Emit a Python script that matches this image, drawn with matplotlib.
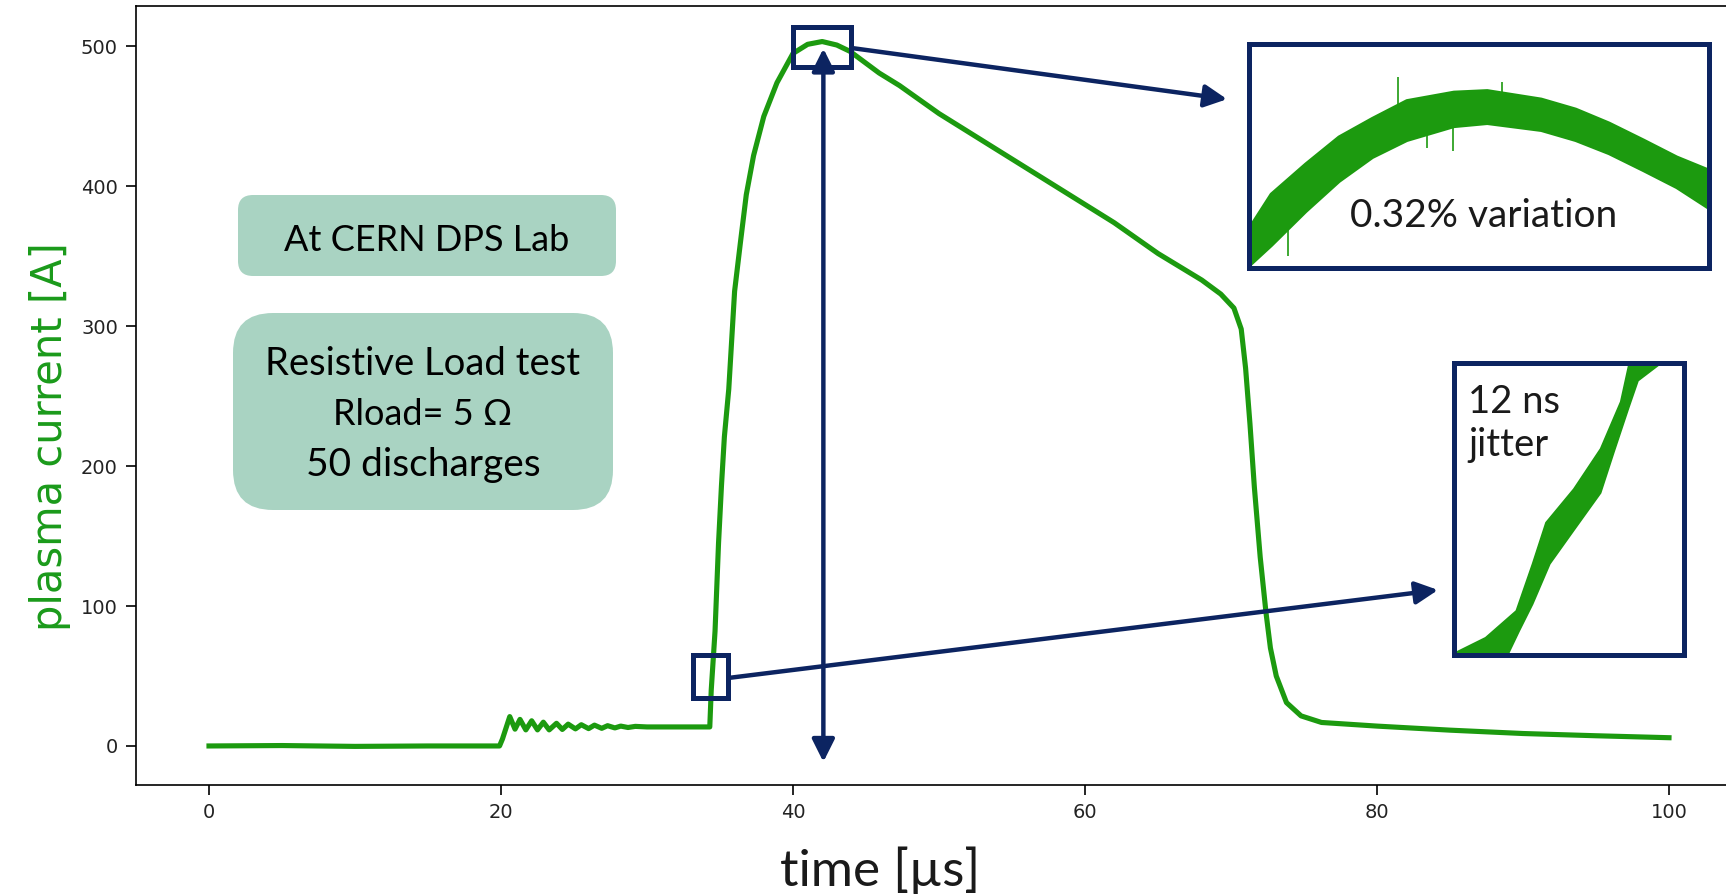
import matplotlib
matplotlib.use("Agg")
import matplotlib.pyplot as plt
from matplotlib.patches import Rectangle, FancyBboxPatch
from matplotlib.transforms import IdentityTransform

# main trace: plasma current [A] vs time [us]
time_us = [0.0, 5.0, 10.0, 15.0, 19.9,
           20.1, 20.6, 20.96, 21.3, 21.7, 22.1, 22.5, 22.9, 23.3, 23.8, 24.2,
           24.6, 25.1, 25.5, 26.0, 26.4, 26.9, 27.3, 27.8, 28.2, 28.7, 29.2,
           30.0, 34.3,
           34.4, 34.66, 34.9, 35.1, 35.3, 35.6, 35.8, 36.0, 36.4, 36.8, 37.3,
           38.0, 38.9, 40.0, 41.0, 42.0, 43.0, 43.9, 45.9, 47.3,
           50.0, 54.0, 58.0, 62.0, 65.0, 68.0, 69.3, 70.2, 70.7, 71.0, 71.3,
           71.6, 72.0, 72.4, 72.7, 73.1, 73.8, 74.8, 76.2,
           80.0, 85.0, 90.0, 95.0, 100.0]
current_a = [0.0, 0.3, -0.3, 0.0, 0.0,
             5.0, 21.0, 12.0, 19.0, 11.5, 18.0, 11.5, 17.0, 11.5, 16.2, 11.8,
             15.6, 12.2, 15.2, 12.4, 14.9, 12.6, 14.5, 12.9, 14.2, 13.2, 14.0,
             13.6, 13.6,
             40.0, 82.0, 145.0, 186.0, 221.0, 255.0, 290.0, 325.0, 360.0, 394.0, 422.0,
             450.0, 474.0, 495.0, 501.5, 503.5, 501.0, 496.5, 481.0, 472.0,
             452.0, 426.0, 400.0, 374.0, 352.0, 333.0, 323.0, 313.0, 298.0, 270.0, 230.0,
             185.0, 135.0, 95.0, 70.0, 50.0, 31.0, 21.5, 16.8,
             14.2, 11.3, 8.9, 7.3, 5.9]

# peak zoom (0.32% variation): band of the 50 discharges
peak_t = [40.0, 40.19, 40.49, 40.78, 41.07, 41.37, 41.78, 42.07, 42.54, 42.84,
          43.13, 43.43, 43.72, 44.0]
peak_hi = [490.2, 494.6, 498.5, 502.0, 504.4, 506.7, 507.8, 508.0, 506.9, 505.6,
           503.8, 501.6, 499.4, 497.7]
peak_lo = [485.4, 488.0, 492.4, 496.3, 499.4, 501.6, 503.4, 503.8, 502.9, 501.6,
           499.9, 497.7, 495.5, 492.8]
spike_t = [40.34, 41.3, 41.78, 42.2, 41.55]
spike_lo = [486.5, 505.0, 500.1, 506.0, 500.5]
spike_hi = [490.0, 509.7, 504.0, 509.1, 502.5]

# rising edge zoom (12 ns jitter): left / right edge of the bundle
jit_left_t = [33.177, 33.50, 33.82, 33.99, 34.13, 34.42, 34.70, 34.91, 35.00]
jit_left_a = [34.5, 36.1, 38.9, 43.8, 48.1, 51.6, 55.8, 60.7, 64.8]
jit_right_t = [33.74, 33.85, 33.99, 34.17, 34.42, 34.70, 34.84, 34.99, 35.09, 35.34]
jit_right_a = [34.5, 36.8, 39.6, 43.8, 47.3, 51.2, 55.5, 60.0, 62.9, 64.8]

GREEN = "#1c9a0f"
NAVY = "#0c2461"
BOXC = "#a9d3c2"
W, H = 1726, 894

fig = plt.figure(figsize=(W / 100, H / 100), dpi=100)
ax = fig.add_axes([136 / W, 109 / H, 1606 / W, 779 / H])
ax.plot(time_us, current_a, color=GREEN, lw=3.7, solid_joinstyle="round")
ax.set_xlim(-5, 105)
ax.set_ylim(-27.9, 528.9)
ax.set_xticks([0, 20, 40, 60, 80, 100])
ax.set_yticks([0, 100, 200, 300, 400, 500])
ax.tick_params(labelsize=14, length=7.5, width=1.2, pad=5.5, labelcolor="#222222")
for s in ax.spines.values():
    s.set_linewidth(1.2)

ax.set_xlabel("time [µs]", fontfamily="Lato", fontsize=37, color="#1a1a1a", va="baseline")
ax.xaxis.set_label_coords(0.463, -0.130)
ax.set_ylabel("plasma current [A]", fontsize=30, color="#1a9a1a")
ax.yaxis.set_label_coords(-0.0405, 0.447)

# zoom boxes and arrows
ax.add_patch(Rectangle((40.0, 485.6), 4.0, 28.6, fill=False, ec=NAVY, lw=3.6, zorder=4))
ax.add_patch(Rectangle((33.17, 34.3), 2.4, 30.5, fill=False, ec=NAVY, lw=3.6, zorder=4))
head = "-|>,head_length=0.4,head_width=0.2"
ax.annotate("", xy=(69.73, 462.3), xytext=(44.0, 498.9),
            arrowprops=dict(arrowstyle=head, lw=3.2, color=NAVY, shrinkA=0, shrinkB=0,
                            mutation_scale=34))
ax.annotate("", xy=(84.18, 111.5), xytext=(35.57, 48.6),
            arrowprops=dict(arrowstyle=head, lw=3.2, color=NAVY, shrinkA=0, shrinkB=0,
                            mutation_scale=34))
ax.annotate("", xy=(42.08, -11.4), xytext=(42.08, 498.5),
            arrowprops=dict(arrowstyle="<|-|>,head_length=0.4,head_width=0.2", lw=3.2,
                            color=NAVY, shrinkA=0, shrinkB=0, mutation_scale=34))

# info boxes (pixel coords, top-left origin)
def box(x0, y0, x1, y1, r):
    p = FancyBboxPatch((x0, H - y1), x1 - x0, y1 - y0,
                       boxstyle=f"round,pad=0,rounding_size={r}",
                       transform=IdentityTransform(), fc=BOXC, ec="none")
    fig.add_artist(p)

def label(x, y, s, size=26):
    fig.text(x / W, (H - y) / H, s, ha="center", va="baseline",
             fontfamily="Lato", fontsize=size, color="black")

box(238, 195, 616, 276, 15)
label(427, 251, "At CERN DPS Lab")
box(233, 313, 613, 510, 40)
label(423, 375, "Resistive Load test", 27.5)
label(423, 425, "Rload= 5 Ω", 26)
label(423, 476, "50 discharges", 28)

# inset: peak
ins1 = fig.add_axes([1249 / W, (H - 268) / H, 459.5 / W, 224 / H], zorder=5)
ins1.fill_between(peak_t, peak_lo, peak_hi, color=GREEN, lw=2.5)
ins1.vlines(spike_t, spike_lo, spike_hi, color=GREEN, lw=1.2)
ins1.set_xlim(40, 44)
ins1.set_ylim(485, 514)
ins1.text(0.22, 0.183, "0.32% variation", transform=ins1.transAxes, fontfamily="Lato",
          fontsize=28, color="#1a1a1a", va="baseline")

# inset: rising edge jitter
ins2 = fig.add_axes([1454 / W, (H - 655) / H, 230 / W, 292.5 / H], zorder=5)
ins2.fill(jit_left_t + jit_right_t[::-1], jit_left_a + jit_right_a[::-1],
          color=GREEN, lw=1.2)
ins2.set_xlim(33.17, 35.57)
ins2.set_ylim(34.3, 64.8)
ins2.text(0.061, 0.827, "12 ns", transform=ins2.transAxes, fontfamily="Lato",
          fontsize=27.5, color="#1a1a1a", va="baseline")
ins2.text(0.061, 0.680, "jitter", transform=ins2.transAxes, fontfamily="Lato",
          fontsize=27.5, color="#1a1a1a", va="baseline")

for a in (ins1, ins2):
    a.set_xticks([])
    a.set_yticks([])
    for s in a.spines.values():
        s.set_linewidth(3.6)
        s.set_color(NAVY)

fig.savefig("out.png", dpi=100)
